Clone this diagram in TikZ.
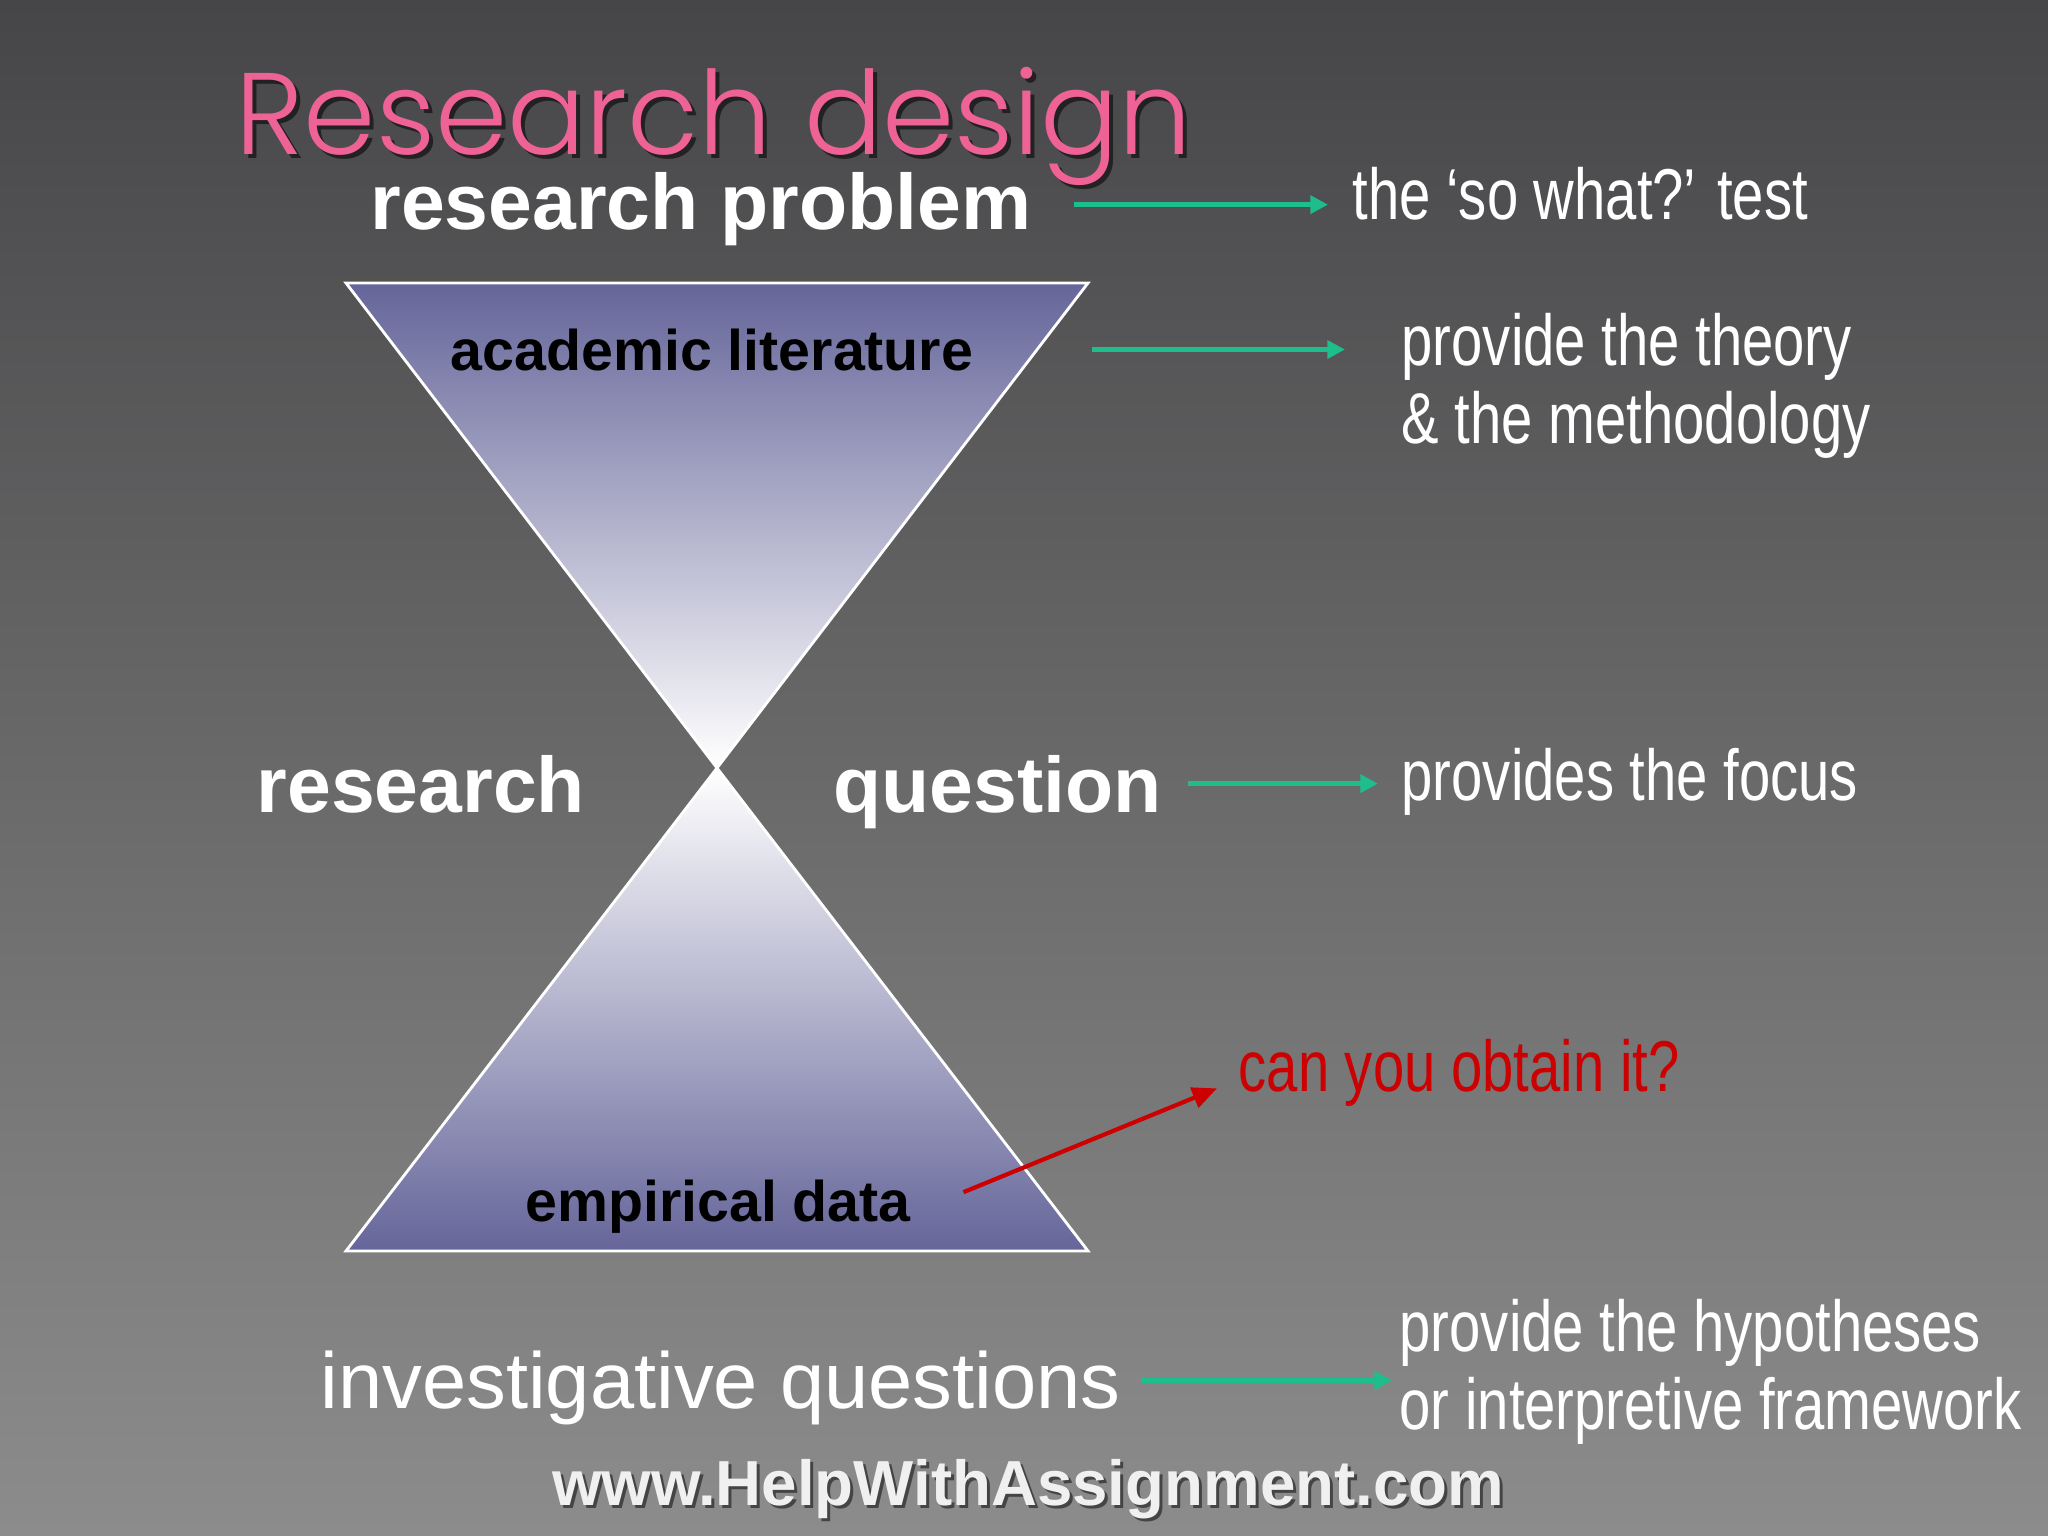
\documentclass[tikz,border=0pt]{standalone}
\usepackage{fontspec}
\setmainfont{Liberation Sans}
\newfontfamily\narrowfont[FakeStretch=0.78]{Liberation Sans}
\newfontfamily\titlefont{Poppins Light}
\usetikzlibrary{arrows.meta}
\definecolor{bgtop}{RGB}{70,70,72}
\definecolor{bgbot}{RGB}{140,140,140}
\definecolor{tripurple}{RGB}{101,101,154}
\definecolor{arrgreen}{RGB}{30,190,140}
\definecolor{titlepink}{RGB}{238,98,150}
\definecolor{darkred}{RGB}{204,0,0}
\tikzset{
  bigbold/.style={inner sep=0pt, text=white, font=\fontsize{22.4}{26}\selectfont\bfseries},
  tribold/.style={inner sep=0pt, text=black, font=\fontsize{16.3}{19}\selectfont\bfseries},
  narrowtxt/.style={inner sep=0pt, text=white, align=left, font=\narrowfont\fontsize{20.5}{22.2}\selectfont},
  garrow/.style={draw=arrgreen, line width=1.4pt, -{Triangle[length=5pt,width=5pt]}},
  rarrow/.style={draw=darkred, line width=1.2pt, -{Triangle[length=7pt,width=6pt]}},
  triedge/.style={draw=white, line width=0.8pt, line join=miter}
}
\begin{document}
\begin{tikzpicture}[x=0.01cm,y=-0.01cm]
\useasboundingbox (0,0) rectangle (2048,1536);
\shade[top color=bgtop,bottom color=bgbot] (0,0) rectangle (2048,1536);

% hourglass
\coordinate (tl) at (346,283);
\coordinate (tr) at (1088,283);
\coordinate (apex) at (717,768);
\coordinate (bl) at (346,1251);
\coordinate (br) at (1088,1251);
\shade[top color=tripurple,bottom color=white] (tl) -- (tr) -- (apex) -- cycle;
\shade[top color=white,bottom color=tripurple] (apex) -- (br) -- (bl) -- cycle;
\path[triedge] (tl) -- (tr) -- (apex) -- cycle;
\path[triedge] (apex) -- (br) -- (bl) -- cycle;

% title
\node[anchor=base west, inner sep=0pt, text=black, opacity=0.55,
      font=\titlefont\fontsize{33}{40}\selectfont] (titleshadow) at (239,158) {Research design};
\node[anchor=base west, inner sep=0pt, text=titlepink,
      font=\titlefont\fontsize{33}{40}\selectfont] (title) at (235,154) {Research design};

% texts
\node[bigbold, anchor=base] (rp) at (701,229) {research problem};
\node[narrowtxt, anchor=base west] (sowhat) at (1352,219) {the ‘so what?’ test};
\node[tribold, anchor=base] (acad) at (712,370) {academic literature};
\node[narrowtxt, anchor=west] (theory) at (1401,386) {provide the theory\\\& the methodology};
\node[bigbold, anchor=base west] (research) at (256,812) {research};
\node[bigbold, anchor=base west] (question) at (833,812) {question};
\node[narrowtxt, anchor=base west] (focus) at (1401,800) {provides the focus};
\node[narrowtxt, anchor=base west, text=darkred] (obtain) at (1238,1091) {can you obtain it?};
\node[tribold, anchor=base] (emp) at (718,1221) {empirical data};
\node[inner sep=0pt, text=white, anchor=base west, font=\fontsize{22.6}{26}\selectfont] (invq) at (320,1408) {investigative questions};
\node[narrowtxt, anchor=west] (hyp) at (1399,1372) {provide the hypotheses\\or interpretive framework};

% watermark
\node[inner sep=0pt, anchor=base, text=black, opacity=0.5, font=\fontsize{18.1}{22}\selectfont\bfseries] (wmshadow) at (1031,1508) {www.HelpWithAssignment.com};
\node[inner sep=0pt, anchor=base, text=white!88!gray, font=\fontsize{18.1}{22}\selectfont\bfseries] (wm) at (1028,1505) {www.HelpWithAssignment.com};

% connectors
\draw[garrow, shorten <=0.42cm, shorten >=0.24cm] ([yshift=0.04cm]rp.east) -- ([yshift=0.04cm]rp.east -| sowhat.west);
\draw[garrow, shorten <=1.18cm, shorten >=0.56cm] (acad.east) -- (acad.east -| theory.west);
\draw[garrow, shorten <=0.25cm, shorten >=0.23cm] ([yshift=0.08cm]question.east) -- ([yshift=0.08cm]question.east -| focus.west);
\draw[garrow, shorten <=0.2cm, shorten >=0.07cm] ([yshift=0.07cm]invq.east) -- ([yshift=0.07cm]invq.east -| hyp.west);
\coordinate (redstart) at ([shift={(52,-14)}]emp.east);
\coordinate (redend) at ([shift={(-21,16)}]obtain.west);
\draw[rarrow] (redstart) -- (redend);
\end{tikzpicture}
\end{document}
